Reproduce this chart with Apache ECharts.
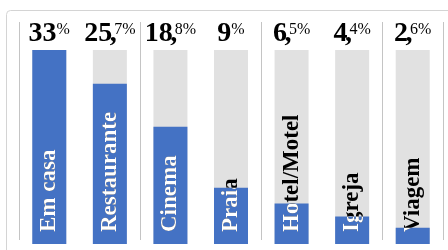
<!DOCTYPE html>
<html>
<head>
<meta charset="utf-8">
<script src="https://cdn.jsdelivr.net/npm/echarts@6/dist/echarts.min.js"></script>
<style>
  html, body { margin: 0; padding: 0; background: #fff; }
  #main { width: 448px; height: 250px; }
</style>
</head>
<body>
<div id="main"></div>
<script>
var categories = ['Em casa', 'Restaurante', 'Cinema', 'Praia', 'Hotel/Motel', 'Igreja', 'Viagem'];
var values = [33, 25.7, 18.8, 9, 6.5, 4.4, 2.6];
var valueLabels = ['33%', '25,7%', '18,8%', '9%', '6,5%', '4,4%', '2,6%'];
var axisMax = 31.1; // first bar runs past the top in the original

var serif = '"Liberation Serif", "Times New Roman", serif';
var catFont = 'bold 23px ' + serif;

function catText(i, x, y, color) {
    return {
        type: 'text',
        x: x,
        y: y,
        rotation: Math.PI / 2,
        style: {
            text: categories[i],
            font: catFont,
            fill: color,
            align: 'left',
            verticalAlign: 'middle'
        }
    };
}

// "25,7%" -> big "25", big comma tucked under, small "7%"
function richLabel(s) {
    var m = s.match(/^(\d+)(,?)(.*)$/);
    var out = '{b|' + m[1] + '}';
    if (m[2]) out += '{c|,}';
    return out + '{s|' + m[3] + '}';
}

function renderLabels(params, api) {
    var i = api.value(0);
    var top = api.coord([i, api.value(1)]);
    var base = api.coord([i, 0]);
    var gridTop = params.coordSys.y;
    var w = api.size([1, 0])[0];
    var cx = base[0];
    var barTop = Math.max(top[1], gridTop);
    var ty = base[1] - 12;
    return {
        type: 'group',
        children: [
            {
                type: 'text',
                x: cx,
                y: gridTop - 1,
                style: {
                    text: richLabel(valueLabels[i]),
                    align: 'center',
                    verticalAlign: 'bottom',
                    rich: {
                        b: { fontFamily: serif, fontWeight: 'bold', fontSize: 28, lineHeight: 30, fill: '#000' },
                        c: { fontFamily: serif, fontWeight: 'bold', fontSize: 28, lineHeight: 30, width: 2, fill: '#000' },
                        s: { fontFamily: serif, fontSize: 16, lineHeight: 23, padding: [3, 0, 0, 0], verticalAlign: 'top', fill: '#000' }
                    }
                }
            },
            catText(i, cx, ty, '#000'),
            {
                type: 'group',
                clipPath: {
                    type: 'rect',
                    shape: { x: cx - w / 2, y: barTop, width: w, height: base[1] - barTop }
                },
                children: [catText(i, cx, ty, '#fff')]
            }
        ]
    };
}

var chart = echarts.init(document.getElementById('main'));
var option = {
    animation: false,
    graphic: [{
        type: 'rect',
        silent: true,
        z: -10,
        shape: { x: 6.5, y: 10.5, width: 480, height: 280, r: 4 },
        style: { fill: 'none', stroke: '#d4d4d4', lineWidth: 1 }
    }],
    grid: [
        { left: 19, right: 5, top: 22, bottom: 10 },
        { left: 19, right: 5, top: 50, bottom: 6 }
    ],
    xAxis: [
        {
            gridIndex: 0,
            type: 'category',
            data: categories,
            axisLine: { show: false },
            axisTick: { show: false },
            axisLabel: { show: false },
            splitLine: { show: true, lineStyle: { color: '#c4c4c4', width: 1 } }
        },
        {
            gridIndex: 1,
            type: 'category',
            data: categories,
            axisLine: { show: false },
            axisTick: { show: false },
            axisLabel: { show: false }
        }
    ],
    yAxis: [
        { gridIndex: 0, type: 'value', show: false, splitLine: { show: false } },
        { gridIndex: 1, type: 'value', min: 0, max: axisMax, show: false, splitLine: { show: false } }
    ],
    series: [
        {
            type: 'bar',
            xAxisIndex: 1,
            yAxisIndex: 1,
            data: values,
            barWidth: 34,
            showBackground: true,
            backgroundStyle: { color: '#e1e1e1' },
            itemStyle: { color: '#4472c4' }
        },
        {
            type: 'custom',
            xAxisIndex: 1,
            yAxisIndex: 1,
            data: values.map(function (v, i) { return [i, v]; }),
            renderItem: renderLabels,
            z: 5
        }
    ]
};
chart.setOption(option);
</script>
</body>
</html>
